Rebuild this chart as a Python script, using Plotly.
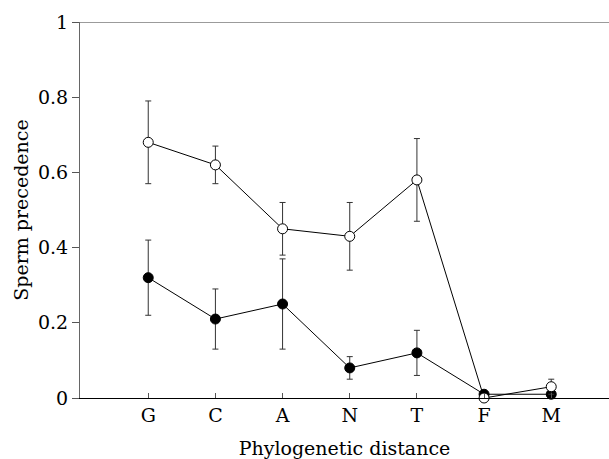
import plotly.graph_objects as go

categories = ["G", "C", "A", "N", "T", "F", "M"]
open_vals = [0.68, 0.62, 0.45, 0.43, 0.58, 0.00, 0.03]
open_err = [0.11, 0.05, 0.07, 0.09, 0.11, 0.0, 0.02]
filled_vals = [0.32, 0.21, 0.25, 0.08, 0.12, 0.01, 0.01]
filled_err = [0.10, 0.08, 0.12, 0.03, 0.06, 0.0, 0.0]
y_ticks = [0, 0.2, 0.4, 0.6, 0.8, 1]
y_ticktext = ["0", "0.2", "0.4", "0.6", "0.8", "1"]

xpos = list(range(len(categories)))
FONT = "DejaVu Serif"
FS = 19

fig = go.Figure()
fig.add_trace(go.Scatter(
    x=xpos, y=filled_vals, mode="lines+markers",
    line=dict(color="black", width=1),
    marker=dict(symbol="circle", size=10, color="black", line=dict(color="black", width=1)),
    error_y=dict(type="data", array=filled_err, visible=True, color="#333333", thickness=1, width=3),
    cliponaxis=False, showlegend=False,
))
fig.add_trace(go.Scatter(
    x=xpos, y=open_vals, mode="lines+markers",
    line=dict(color="black", width=1),
    marker=dict(symbol="circle", size=10, color="white", line=dict(color="black", width=1)),
    error_y=dict(type="data", array=open_err, visible=True, color="#333333", thickness=1, width=3),
    cliponaxis=False, showlegend=False,
))

fig.add_shape(type="line", xref="paper", yref="y", x0=0, x1=1, y0=1, y1=1,
              line=dict(color="#7a7a7a", width=1.5))

fig.update_layout(
    width=609, height=459,
    margin=dict(l=80, r=0, t=22, b=61, autoexpand=False),
    paper_bgcolor="white", plot_bgcolor="white",
    font=dict(family=FONT, size=FS, color="black"),
    xaxis=dict(
        range=[-1.016, 6.86], tickmode="array", tickvals=xpos, ticktext=categories,
        ticks="inside", ticklen=5, tickcolor="#555555", tickwidth=1,
        showline=True, linecolor="black", linewidth=1.2,
        showgrid=False, zeroline=False, automargin=False,
        title=dict(text="Phylogenetic distance", standoff=16, font=dict(family=FONT, size=FS)),
        tickfont=dict(family=FONT, size=FS),
    ),
    yaxis=dict(
        range=[0, 1], tickmode="array", tickvals=y_ticks, ticktext=y_ticktext,
        ticks="outside", ticklen=7, tickcolor="#555555", tickwidth=1,
        showline=True, linecolor="#666666", linewidth=1.2,
        showgrid=False, zeroline=False, automargin=False,
        title=dict(text="Sperm precedence", standoff=4, font=dict(family=FONT, size=FS)),
        tickfont=dict(family=FONT, size=FS),
    ),
)

fig.write_html("out.html", config={"displayModeBar": False},
               post_script="document.body.style.margin='0';document.body.style.overflow='hidden';")
